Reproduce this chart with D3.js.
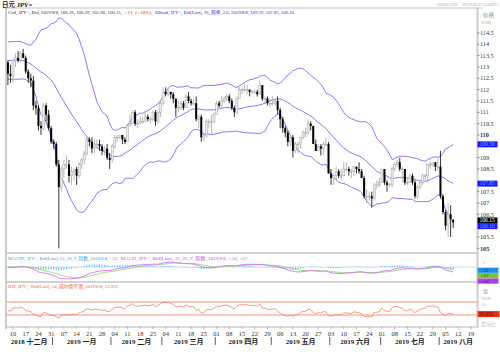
<!DOCTYPE html>
<html><head><meta charset="utf-8">
<script src="https://cdn.jsdelivr.net/npm/d3@7"></script>
<style>body{margin:0;background:#fff}svg{display:block}</style>
</head><body>
<svg id="c" width="500" height="352"></svg>
<script>
// ---------- DATA ----------
// closes before the visible window (Oct 1 - Dec 5 2018), used only to warm up the indicators
const priorCloses = [113.9,113.6,114.5,113.9,113.7, 113.2,113.0,112.3,112.1,112.2, 111.8,112.2,112.6,112.2,112.5,
  112.8,112.4,112.4,112.3,111.9, 112.4,113.1,112.9,112.7,113.2, 113.2,113.4,113.5,113.9,113.8,
  113.8,113.8,113.6,113.6,112.8, 112.5,112.8,113.0,112.9,112.9, 113.5,113.8,113.5,113.4,113.5, 113.6,112.8,113.2];

const dates = [
 "2018-12-06","2018-12-07",
 "2018-12-10","2018-12-11","2018-12-12","2018-12-13","2018-12-14",
 "2018-12-17","2018-12-18","2018-12-19","2018-12-20","2018-12-21",
 "2018-12-24","2018-12-25","2018-12-26","2018-12-27","2018-12-28",
 "2018-12-31","2019-01-01","2019-01-02","2019-01-03","2019-01-04",
 "2019-01-07","2019-01-08","2019-01-09","2019-01-10","2019-01-11",
 "2019-01-14","2019-01-15","2019-01-16","2019-01-17","2019-01-18",
 "2019-01-21","2019-01-22","2019-01-23","2019-01-24","2019-01-25",
 "2019-01-28","2019-01-29","2019-01-30","2019-01-31","2019-02-01",
 "2019-02-04","2019-02-05","2019-02-06","2019-02-07","2019-02-08",
 "2019-02-11","2019-02-12","2019-02-13","2019-02-14","2019-02-15",
 "2019-02-18","2019-02-19","2019-02-20","2019-02-21","2019-02-22",
 "2019-02-25","2019-02-26","2019-02-27","2019-02-28","2019-03-01",
 "2019-03-04","2019-03-05","2019-03-06","2019-03-07","2019-03-08",
 "2019-03-11","2019-03-12","2019-03-13","2019-03-14","2019-03-15",
 "2019-03-18","2019-03-19","2019-03-20","2019-03-21","2019-03-22",
 "2019-03-25","2019-03-26","2019-03-27","2019-03-28","2019-03-29",
 "2019-04-01","2019-04-02","2019-04-03","2019-04-04","2019-04-05",
 "2019-04-08","2019-04-09","2019-04-10","2019-04-11","2019-04-12",
 "2019-04-15","2019-04-16","2019-04-17","2019-04-18","2019-04-19",
 "2019-04-22","2019-04-23","2019-04-24","2019-04-25","2019-04-26",
 "2019-04-29","2019-04-30","2019-05-01","2019-05-02","2019-05-03",
 "2019-05-06","2019-05-07","2019-05-08","2019-05-09","2019-05-10",
 "2019-05-13","2019-05-14","2019-05-15","2019-05-16","2019-05-17",
 "2019-05-20","2019-05-21","2019-05-22","2019-05-23","2019-05-24",
 "2019-05-27","2019-05-28","2019-05-29","2019-05-30","2019-05-31",
 "2019-06-03","2019-06-04","2019-06-05","2019-06-06","2019-06-07",
 "2019-06-10","2019-06-11","2019-06-12","2019-06-13","2019-06-14",
 "2019-06-17","2019-06-18","2019-06-19","2019-06-20","2019-06-21",
 "2019-06-24","2019-06-25","2019-06-26","2019-06-27","2019-06-28",
 "2019-07-01","2019-07-02","2019-07-03","2019-07-04","2019-07-05",
 "2019-07-08","2019-07-09","2019-07-10","2019-07-11","2019-07-12",
 "2019-07-15","2019-07-16","2019-07-17","2019-07-18","2019-07-19",
 "2019-07-22","2019-07-23","2019-07-24","2019-07-25","2019-07-26",
 "2019-07-29","2019-07-30","2019-07-31","2019-08-01","2019-08-02",
 "2019-08-05","2019-08-06","2019-08-07","2019-08-08"];

const open = [
 113.2,112.7,
 112.6,113.3,113.4,113.3,113.6,
 113.4,112.8,112.5,112.4,111.3,
 111.2,110.4,110.3,111.3,110.9,
 110.3,109.7,109.6,108.7,107.7,
 108.5,108.7,108.7,108.2,108.4,
 108.5,108.2,108.7,108.9,109.2,
 109.8,109.7,109.4,109.6,109.6,
 109.5,109.3,109.4,109.0,108.9,
 109.5,109.9,109.9,110.0,109.8,
 109.7,110.4,110.5,111.0,110.5,
 110.5,110.6,110.6,110.8,110.7,
 110.7,111.0,110.6,111.0,111.4,
 111.9,111.8,111.9,111.8,111.6,
 111.2,111.2,111.4,111.2,111.7,
 111.5,111.4,111.4,110.7,110.8,
 109.9,110.0,110.6,110.6,110.6,
 110.9,111.4,111.3,111.5,111.6,
 111.7,111.5,111.2,111.0,111.6,
 112.0,112.0,112.0,112.0,111.9,
 111.9,111.9,111.8,112.2,111.6,
 111.6,111.4,111.4,111.4,111.5,
 111.1,110.7,110.3,110.1,109.7,
 109.9,109.3,109.6,109.6,109.9,
 110.1,110.1,110.5,110.4,109.6,
 109.3,109.5,109.4,109.6,109.6,
 108.3,108.1,108.2,108.4,108.2,
 108.2,108.5,108.5,108.4,108.4,
 108.6,108.5,108.4,108.1,107.3,
 107.3,107.3,107.2,107.8,107.8,
 107.9,108.5,107.9,107.8,107.8,
 108.5,108.7,108.8,108.5,108.5,
 107.9,107.9,108.2,107.9,107.3,
 107.7,107.9,108.2,108.2,108.7,
 108.7,108.8,108.6,108.6,107.3,
 106.6,106.0,106.5,106.26];

const high = [
 113.3,113.1,
 113.4,113.6,113.7,113.7,113.8,
 113.5,112.9,112.7,112.6,111.5,
 111.3,110.6,111.4,111.4,111.1,
 110.4,109.8,109.7,108.9,108.6,
 108.9,109.1,108.9,108.6,108.5,
 108.6,108.8,109.0,109.3,109.9,
 109.9,109.9,109.8,109.8,109.8,
 109.6,109.5,109.6,109.2,109.6,
 110.0,110.0,110.0,110.0,109.9,
 110.5,110.9,111.1,111.1,110.7,
 110.8,110.8,111.0,110.9,110.8,
 111.1,111.1,111.1,111.5,112.1,
 112.1,112.0,111.9,111.9,111.6,
 111.5,111.5,111.5,111.8,111.9,
 111.6,111.6,111.7,110.9,110.9,
 110.1,110.7,110.7,110.9,111.0,
 111.5,111.5,111.7,111.7,111.8,
 111.8,111.6,111.3,111.7,112.1,
 112.1,112.2,112.2,112.0,112.0,
 112.0,112.0,112.4,112.2,111.7,
 111.7,111.6,111.7,111.6,111.7,
 111.2,110.8,110.4,110.2,110.0,
 110.0,109.7,109.7,109.9,110.2,
 110.3,110.7,110.6,110.4,109.8,
 109.6,109.6,109.7,109.9,109.7,
 108.5,108.3,108.6,108.5,108.5,
 108.8,108.8,108.6,108.5,108.6,
 108.6,108.8,108.5,108.2,107.6,
 107.5,107.5,107.9,108.0,108.1,
 108.5,108.5,108.0,107.9,108.6,
 108.8,108.9,109.0,108.6,108.5,
 108.1,108.3,108.3,108.0,107.8,
 108.0,108.3,108.3,108.7,108.8,
 108.8,108.8,109.0,109.3,107.4,
 106.7,107.0,106.9,106.29];

const low = [
 112.2,112.3,
 112.3,113.0,113.2,113.2,113.4,
 112.7,112.3,112.1,111.1,110.9,
 110.2,110.0,110.2,110.6,110.2,
 109.6,109.4,108.6,105.0,107.5,
 108.1,108.5,107.9,107.8,108.0,
 107.8,108.1,108.5,108.7,109.1,
 109.5,109.2,109.2,109.4,109.3,
 109.1,109.1,108.9,108.5,108.8,
 109.4,109.7,109.8,109.6,109.6,
 109.7,110.4,110.5,110.4,110.3,
 110.5,110.5,110.6,110.6,110.5,
 110.6,110.4,110.5,110.8,111.3,
 111.7,111.7,111.6,111.4,110.8,
 111.0,111.1,111.1,111.2,111.4,
 111.3,111.3,110.6,110.3,109.7,
 109.7,109.9,110.3,110.0,110.5,
 110.9,111.2,111.2,111.4,111.5,
 111.4,111.1,110.8,110.9,111.6,
 111.8,111.9,111.8,111.7,111.8,
 111.8,111.7,111.8,111.5,111.4,
 111.3,111.2,111.3,111.3,110.9,
 110.3,110.1,109.9,109.5,109.5,
 109.0,109.2,109.2,109.4,109.8,
 109.9,110.0,110.2,109.6,109.3,
 109.3,109.1,109.1,109.5,108.3,
 107.8,107.8,108.0,108.1,108.0,
 108.2,108.4,108.2,108.1,108.2,
 108.3,108.3,108.1,107.2,107.0,
 107.1,106.8,107.1,107.6,107.7,
 107.9,107.8,107.5,107.7,107.7,
 108.4,108.6,108.4,107.9,107.8,
 107.8,107.9,107.8,107.2,107.2,
 107.6,107.8,108.0,107.9,108.5,
 108.6,108.4,108.4,107.2,106.5,
 105.8,105.5,105.5,105.90];

const close = [
 112.7,112.6,
 113.3,113.4,113.3,113.6,113.4,
 112.8,112.5,112.4,111.3,111.2,
 110.4,110.3,111.3,110.9,110.3,
 109.7,109.6,108.7,107.7,108.5,
 108.7,108.7,108.2,108.4,108.5,
 108.2,108.7,108.9,109.2,109.8,
 109.7,109.4,109.6,109.6,109.5,
 109.3,109.4,109.0,108.9,109.5,
 109.9,109.9,110.0,109.8,109.7,
 110.4,110.5,111.0,110.5,110.5,
 110.6,110.6,110.8,110.7,110.7,
 111.0,110.6,111.0,111.4,111.9,
 111.8,111.9,111.8,111.6,111.2,
 111.2,111.4,111.2,111.7,111.5,
 111.4,111.4,110.7,110.8,109.9,
 110.0,110.6,110.6,110.6,110.9,
 111.4,111.3,111.5,111.6,111.7,
 111.5,111.2,111.0,111.6,112.0,
 112.0,112.0,112.0,111.9,111.9,
 111.9,111.8,112.2,111.6,111.6,
 111.4,111.4,111.4,111.5,111.1,
 110.7,110.3,110.1,109.7,109.9,
 109.3,109.6,109.6,109.9,110.1,
 110.1,110.5,110.4,109.6,109.3,
 109.5,109.4,109.6,109.6,108.3,
 108.1,108.2,108.4,108.2,108.2,
 108.5,108.5,108.4,108.4,108.6,
 108.5,108.4,108.1,107.3,107.3,
 107.3,107.2,107.8,107.8,107.9,
 108.5,107.9,107.8,107.8,108.5,
 108.7,108.8,108.5,108.5,107.9,
 107.9,108.2,107.9,107.3,107.7,
 107.9,108.2,108.2,108.7,108.7,
 108.8,108.6,108.6,107.3,106.6,
 106.0,106.5,106.3,106.15];

// price labels that are not hidden behind the value tags
const priceTicks = [105,105.5,106.5,107,107.5,108.5,109,110,110.5,111,111.5,112,112.5,113,113.5,114,114.5];
const boldTicks = [105,110];
const monthLabels = ["2018 十二月","2019 一月","2019 二月","2019 三月","2019 四月","2019 五月","2019 六月","2019 七月","2019 八月"];
const monthStarts = ["2018-12-03","2019-01-01","2019-02-01","2019-03-01","2019-04-01","2019-05-01","2019-06-03","2019-07-01","2019-08-01","2019-09-02"];
const weekTickStart = "2018-12-10", weekTickEnd = "2019-08-20";

const titleText = "日元 JPY=";
const rangeText = "2018/12/6 - 2019/8/23 (GMT)";
const legendMain = ["Cnd, JPY=, Bid, 2019/8/8, 106.26, 106.29, 105.90, 106.15,", "-.11, (-.10%),", "BBand, JPY=, Bid(Last), 26, 简单, 2.0, 2019/8/8, 109.59, 107.85, 106.10"];
const legendMacd = ["MACDF, JPY=, Bid(Last), 12, 26, 9, 指数, 2019/8/8, -.23,", "MACD, JPY=, Bid(Last), 12, 26, 9, 指数, 2019/8/8, -.50, -.27"];
const legendRsi = "RSI, JPY=, Bid(Last), 14, 威尔德平滑, 2019/8/8, 33.952";

// ---------- LAYOUT ----------
const svg = d3.select("#c");
const X0 = 6, X1 = 477;
const mainTop = 8, mainBot = 253, macdTop = 253, macdBot = 282, rsiTop = 282, rsiBot = 327;
const FONT = "'Liberation Serif','Noto Sans CJK SC',serif";
const CJK = "'Liberation Serif','Noto Sans CJK SC',serif";

const parse = d3.timeParse("%Y-%m-%d");
const base = parse("2018-12-03");
function wd(d){ const days = Math.round((d - base)/864e5); return 5*Math.floor(days/7) + Math.min(((days%7)+7)%7, 5); }

const x = d3.scaleLinear().domain([5, 185]).range([13, 471]);
const step = x(1) - x(0);
const yMain = d3.scaleLinear().domain([104.795, 115.60]).range([mainBot, mainTop]);
const yMacd = d3.scaleLinear().domain([-1.5, 1.4]).range([macdBot, macdTop]);
const yRsi = d3.scaleLinear().domain([-6.9, 131.5]).range([rsiBot, rsiTop]);

const candles = dates.map((d,i)=>({d:parse(d), o:open[i], h:high[i], l:low[i], c:close[i]}));
candles.forEach(c=>c.xi = x(wd(c.d)));

// ---------- INDICATORS ----------
const all = priorCloses.concat(close);
const P = priorCloses.length;
const bb = close.map((c,i)=>{ const w = all.slice(P+i-25, P+i+1); const m = d3.mean(w);
  const s = Math.sqrt(d3.mean(w, v=>(v-m)*(v-m))); return {x:candles[i].xi, m, u:m+2*s, l:m-2*s}; });
function ema(arr,n){ const k=2/(n+1); let e=arr[0]; return arr.map((v,i)=> (e = i ? v*k + e*(1-k) : v)); }
const e12 = ema(all,12), e26 = ema(all,26);
const macdAll = all.map((v,i)=>e12[i]-e26[i]);
const sigAll = ema(macdAll,9);
const macd = close.map((c,i)=>({x:candles[i].xi, m:macdAll[P+i], s:sigAll[P+i], h:macdAll[P+i]-sigAll[P+i]}));
let ag=0, al=0; const rsiAll=[];
for(let i=1;i<all.length;i++){ const ch=all[i]-all[i-1], g=Math.max(ch,0), l=Math.max(-ch,0);
  if(i<=14){ ag+=g/14; al+=l/14; } else { ag=(ag*13+g)/14; al=(al*13+l)/14; }
  rsiAll[i] = al===0?100:100-100/(1+ag/al); }
const rsi = close.map((c,i)=>({x:candles[i].xi, v:rsiAll[P+i]}));

// ---------- FRAME ----------
const defs = svg.append("defs");
[["cm",mainTop,mainBot],["cd",macdTop,macdBot],["cr",rsiTop,rsiBot]].forEach(([id,t,b])=>{
  defs.append("clipPath").attr("id",id).append("rect").attr("x",X0).attr("y",t).attr("width",X1-X0).attr("height",b-t); });

svg.append("text").attr("x",2).attr("y",6.5).attr("font-family",CJK).attr("font-size",6.5).attr("font-weight","bold").attr("fill","#222").text(titleText);
svg.append("text").attr("x",498).attr("y",6).attr("text-anchor","end").attr("font-family",FONT).attr("font-size",5).attr("fill","#aaa").text(rangeText);

const grey = "#c4c4c4";
svg.append("line").attr("x1",X0).attr("x2",482).attr("y1",mainTop).attr("y2",mainTop).attr("stroke",grey).attr("stroke-width",1);
svg.append("line").attr("x1",X0).attr("x2",X0).attr("y1",mainTop).attr("y2",rsiBot+2).attr("stroke","#a8a8a8").attr("stroke-width",1.2);
[macdTop, rsiTop].forEach(yv=> svg.append("line").attr("x1",X0).attr("x2",X1+2).attr("y1",yv).attr("y2",yv).attr("stroke",grey).attr("stroke-width",1.6));
svg.append("line").attr("x1",X0).attr("x2",X1+2).attr("y1",rsiBot).attr("y2",rsiBot).attr("stroke","#b8b8b8").attr("stroke-width",1);
svg.append("line").attr("x1",X1+0.5).attr("x2",X1+0.5).attr("y1",mainTop).attr("y2",rsiBot).attr("stroke","#d0d0d0").attr("stroke-width",2.2);

// ---------- MAIN PANEL ----------
const gm = svg.append("g").attr("clip-path","url(#cm)");
const bbLine = k => d3.line().x(d=>d.x).y(d=>yMain(d[k]));
["u","m","l"].forEach(k=> gm.append("path").datum(bb).attr("d",bbLine(k)).attr("fill","none").attr("stroke","#6f6ff0").attr("stroke-width",0.9));

const bw = 2.0;
candles.forEach(c=>{
  const up = c.c >= c.o;
  gm.append("line").attr("x1",c.xi).attr("x2",c.xi).attr("y1",yMain(c.h)).attr("y2",yMain(c.l))
    .attr("stroke", up ? "#a4a4a4" : "#000").attr("stroke-width",0.8);
  const top = yMain(Math.max(c.o,c.c)), bot = yMain(Math.min(c.o,c.c));
  gm.append("rect").attr("x",c.xi-bw/2).attr("y",top).attr("width",bw).attr("height",Math.max(bot-top,0.8))
    .attr("fill", up ? "#eeeeee" : "#000").attr("stroke", up ? "#a4a4a4" : "none").attr("stroke-width",0.5);
});

// legend
function legend(y, parts){ let cx = 8; parts.forEach(p=>{ svg.append("text").attr("x",cx).attr("y",y).attr("font-family",FONT)
  .attr("font-size",4.8).attr("fill",p.c).attr("textLength",p.w).attr("lengthAdjust","spacingAndGlyphs").text(p.t); cx += p.w + 2.5; }); }
legend(14, [{t:legendMain[0],c:"#333",w:114},{t:legendMain[1],c:"#e02020",w:28},{t:legendMain[2],c:"#2a2ae0",w:139}]);

// price axis
svg.append("text").attr("x",483).attr("y",17).attr("font-family",CJK).attr("font-size",5.5).attr("fill","#888").text("价格");
svg.append("text").attr("x",481).attr("y",24).attr("font-family",FONT).attr("font-size",4.5).attr("fill","#aaa").text("/USD");
priceTicks.forEach(p=>{
  const yy = yMain(p);
  svg.append("line").attr("x1",X1).attr("x2",X1+2.5).attr("y1",yy).attr("y2",yy).attr("stroke","#555").attr("stroke-width",0.6);
  svg.append("text").attr("x",480).attr("y",yy).attr("dy","0.35em").attr("font-family",FONT).attr("font-size",6.2)
    .attr("font-weight", boldTicks.includes(p) ? "bold" : "normal").attr("fill","#333").text(p);
});
function tag(yc, txt, bg, fg){ svg.append("rect").attr("x",477.5).attr("y",yc-3).attr("width",20).attr("height",6).attr("fill",bg);
  svg.append("text").attr("x",479.5).attr("y",yc).attr("dy","0.33em").attr("font-family",FONT).attr("font-size",5.6).attr("fill",fg).text(txt); }
const last = bb[bb.length-1];
tag(yMain(last.u), "109.59", "#1a1aff", "#7f9fff");
tag(yMain(last.m), "107.85", "#1a1aff", "#7f9fff");
tag(yMain(close[close.length-1])-1.8, "106.15", "#000", "#fff");
tag(yMain(last.l)+3.3, "106.10", "#1a1aff", "#7f9fff");

// ---------- MACD PANEL ----------
const gd = svg.append("g").attr("clip-path","url(#cd)");
gd.append("line").attr("x1",X0).attr("x2",X1).attr("y1",yMacd(0)).attr("y2",yMacd(0)).attr("stroke","#9ccff2").attr("stroke-width",0.6);
macd.forEach(d=> gd.append("line").attr("x1",d.x).attr("x2",d.x).attr("y1",yMacd(0)).attr("y2",yMacd(d.h)).attr("stroke","#5fb0ee").attr("stroke-width",0.9));
gd.append("path").datum(macd).attr("d",d3.line().x(d=>d.x).y(d=>yMacd(d.s))).attr("fill","none").attr("stroke","#9ad96a").attr("stroke-width",0.9);
gd.append("path").datum(macd).attr("d",d3.line().x(d=>d.x).y(d=>yMacd(d.m))).attr("fill","none").attr("stroke","#d070f2").attr("stroke-width",0.9);
legend(260, [{t:legendMacd[0],c:"#3a9ee6",w:110},{t:legendMacd[1],c:"#c653ec",w:127}]);
svg.append("text").attr("x",483).attr("y",263.5).attr("font-family",FONT).attr("font-size",4.5).attr("fill","#c4c4c4").text("0");
const lm = macd[macd.length-1];
function mtag(yc, txt, bg){ svg.append("rect").attr("x",477.5).attr("y",yc-2.6).attr("width",21).attr("height",5.2).attr("fill",bg);
  svg.append("text").attr("x",481).attr("y",yc).attr("dy","0.33em").attr("font-family",FONT).attr("font-size",4.8).attr("fill","#1b2a60").text(txt); }
mtag(yMacd(lm.h)+1, "-.23", "#1e90e8");
mtag(yMacd(lm.h)+6.4, "-.27", "#72c92e");
mtag(yMacd(lm.h)+11.8, "-.50", "#b23ee0");

// ---------- RSI PANEL ----------
const gr = svg.append("g").attr("clip-path","url(#cr)");
gr.append("line").attr("x1",X0).attr("x2",X1).attr("y1",yRsi(70)).attr("y2",yRsi(70)).attr("stroke","#f7b4a6").attr("stroke-width",1.6);
gr.append("line").attr("x1",X0).attr("x2",X1).attr("y1",yRsi(30)).attr("y2",yRsi(30)).attr("stroke","#f08877").attr("stroke-width",0.9);
gr.append("path").datum(rsi).attr("d",d3.line().x(d=>d.x).y(d=>yRsi(d.v))).attr("fill","none").attr("stroke","#f27d6a").attr("stroke-width",0.8);
legend(288, [{t:legendRsi,c:"#ef5a3c",w:110}]);
svg.append("text").attr("x",483).attr("y",293).attr("font-family",CJK).attr("font-size",5).attr("fill","#999").text("值");
svg.append("text").attr("x",481).attr("y",299.5).attr("font-family",FONT).attr("font-size",4.3).attr("fill","#aaa").text("/USD");
svg.append("text").attr("x",481).attr("y",306).attr("font-family",FONT).attr("font-size",4.3).attr("fill","#bbb").text("50");
svg.append("text").attr("x",481).attr("y",326).attr("font-family",CJK).attr("font-size",5).attr("fill","#bbb").text("百分比");
const lr = rsi[rsi.length-1];
svg.append("rect").attr("x",477.5).attr("y",yRsi(lr.v)-3).attr("width",22).attr("height",6).attr("fill","#e8320e");
svg.append("text").attr("x",479).attr("y",yRsi(lr.v)).attr("dy","0.33em").attr("font-family",FONT).attr("font-size",5.2).attr("fill","#3a0a00").text("33.952");

// ---------- X AXIS ----------
const weeks = d3.timeMonday.range(parse(weekTickStart), parse(weekTickEnd));
const fmtDay = d3.timeFormat("%d");
weeks.forEach(w=>{ const xx = x(wd(w));
  svg.append("line").attr("x1",xx).attr("x2",xx).attr("y1",rsiBot).attr("y2",rsiBot+2).attr("stroke","#888").attr("stroke-width",0.6);
  svg.append("text").attr("x",xx).attr("y",335.5).attr("text-anchor","middle").attr("font-family",FONT).attr("font-size",6.5).attr("fill","#333").text(fmtDay(w)); });
monthLabels.forEach((m,i)=>{
  const a = Math.max(X0, x(wd(parse(monthStarts[i]))) - step/2);
  const b = Math.min(X1, x(wd(parse(monthStarts[i+1]))) - step/2);
  svg.append("text").attr("x",(a+b)/2).attr("y",343.5).attr("text-anchor","middle").attr("font-family",CJK).attr("font-size",7)
    .attr("font-weight","bold").attr("fill","#222").text(m);
  if(i>0) svg.append("line").attr("x1",a).attr("x2",a).attr("y1",337).attr("y2",345).attr("stroke","#333").attr("stroke-width",0.8);
});
</script>
</body></html>
